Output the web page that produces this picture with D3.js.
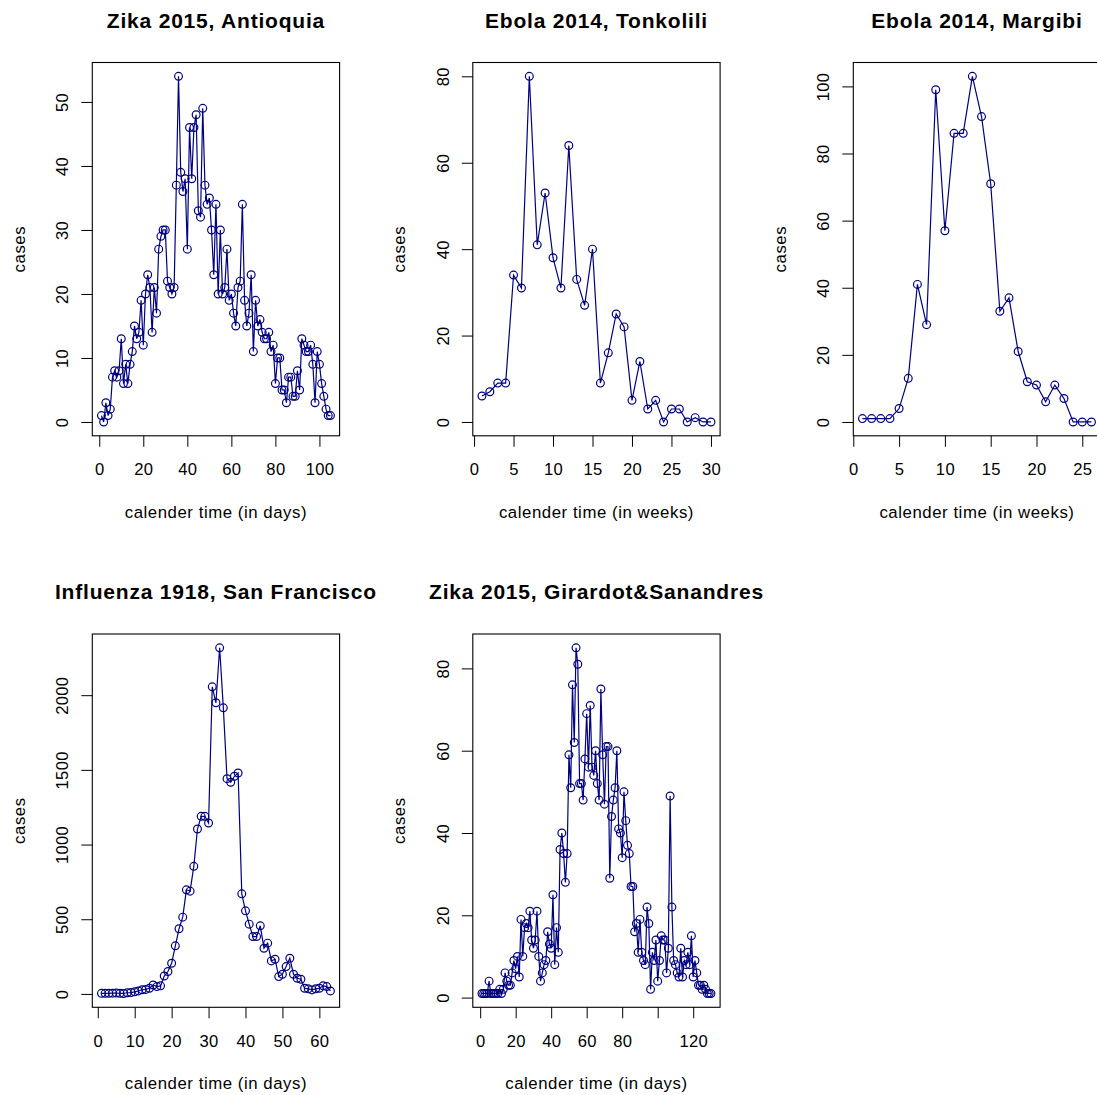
<!DOCTYPE html>
<html>
<head>
<meta charset="utf-8">
<script src="https://cdn.jsdelivr.net/npm/d3@7"></script>
<style>
    body { margin: 0; background: #ffffff; }
    svg { font-family: "Liberation Sans", Arial, Helvetica, sans-serif; }
    .title { font-size: 21px; font-weight: bold; letter-spacing: 0.8px; }
    .label { font-size: 16.8px; letter-spacing: 0.55px; }
    .axis text { font-size: 16.6px; letter-spacing: 0.3px; fill: #000000; }
    .axis line { stroke: #000000; }
</style>
</head>
<body>
<svg id="svgEpidemics" width="1097" height="1095"></svg>
<script>

// Daily / weekly case counts
var antioquiaCases = [1, 0, 3, 1, 2, 7, 8, 7, 8, 13, 6, 9, 6, 9, 11, 15, 13, 14, 19, 12,
    20, 23, 21, 14, 21, 17, 27, 29, 30, 30, 22, 21, 20, 21, 37, 54, 39, 36, 38, 27,
    46, 38, 46, 48, 33, 32, 49, 37, 34, 35, 30, 23, 34, 20, 30, 20, 21, 27, 19, 20,
    17, 15, 21, 22, 34, 19, 15, 17, 23, 11, 19, 15, 16, 14, 13, 13, 14, 11, 12, 6,
    10, 10, 5, 5, 3, 7, 7, 4, 4, 8, 5, 13, 12, 11, 11, 12, 9, 3, 11, 9, 6, 4, 2, 1, 1];

var tonkoliliCases = [6, 7, 9, 9, 34, 31, 80, 41, 53, 38, 31, 64, 33, 27, 40, 9, 16, 25,
    22, 5, 14, 3, 5, 0, 3, 3, 0, 1, 0, 0];

var margibiCases = [1, 1, 1, 1, 4, 13, 41, 29, 99, 57, 86, 86, 103, 91, 71, 33, 37, 21,
    12, 11, 6, 11, 7, 0, 0, 0];

var sanFranciscoCases = [4, 4, 4, 5, 6, 4, 3, 8, 9, 14, 20, 28, 30, 38,
    60, 49, 54, 120, 150, 205, 322, 436, 514, 697, 688, 854, 1104, 1189, 1189, 1144,
    2056, 1949, 2317, 1915, 1441, 1417, 1457, 1479, 670, 556, 467, 384, 384, 456, 306,
    340, 221, 232, 116, 132, 183, 239, 132, 105, 98, 38, 34, 27, 34, 38, 54, 49, 20];

var girardotCases = [1, 1, 1, 1, 4, 1, 1, 1, 1, 1, 2, 1, 2, 6, 4, 3, 3, 6, 9, 7,
    10, 5, 19, 10, 17, 18, 17, 21, 14, 12, 14, 21, 10, 4, 6, 8, 9, 16, 13, 12,
    25, 8, 17, 11, 36, 40, 35, 28, 35, 59, 51, 76, 62, 85, 81, 52, 52, 48, 58, 69,
    56, 71, 56, 54, 60, 52, 48, 75, 59, 47, 61, 61, 29, 44, 48, 51, 60, 41, 40, 34,
    50, 43, 37, 35, 27, 27, 16, 18, 11, 19, 11, 9, 8, 22, 18, 2, 11, 9, 14, 4,
    9, 15, 14, 14, 6, 12, 49, 22, 9, 8, 6, 5, 12, 5, 9, 8, 11, 8, 15, 5,
    9, 6, 3, 3, 2, 3, 2, 1, 1, 1];

var titles = ["Zika 2015, Antioquia", "Ebola 2014, Tonkolili", "Ebola 2014, Margibi",
    "Influenza 1918, San Francisco", "Zika 2015, Girardot&Sanandres"];

var xLabels = ["calender time (in days)", "calender time (in weeks)", "calender time (in weeks)",
    "calender time (in days)", "calender time (in days)"];

var xTicks = [[0, 20, 40, 60, 80, 100], [0, 5, 10, 15, 20, 25, 30], [0, 5, 10, 15, 20, 25],
    [0, 10, 20, 30, 40, 50, 60], [0, 20, 40, 60, 80, 100, 120]];

// R drops the "100" label of the last panel because it would overlap
var xTickLabels = [["0", "20", "40", "60", "80", "100"], ["0", "5", "10", "15", "20", "25", "30"],
    ["0", "5", "10", "15", "20", "25"], ["0", "10", "20", "30", "40", "50", "60"],
    ["0", "20", "40", "60", "80", "", "120"]];

var yTicks = [[0, 10, 20, 30, 40, 50], [0, 20, 40, 60, 80], [0, 20, 40, 60, 80, 100],
    [0, 500, 1000, 1500, 2000], [0, 20, 40, 60, 80]];

var allCases = [antioquiaCases, tonkoliliCases, margibiCases, sanFranciscoCases, girardotCases];

// Layout of the 2 x 3 grid (like par(mfrow = c(2, 3)) in R)
var cell = { width: 380.5, height: 571.5 };
var padding = { top: 62.5, left: 92.3 };
var boxWidth = 247.3;
var boxHeight = 373.3;
var lineColour = "navy";

var svg = d3.select("#svgEpidemics");

svg.append("rect")
    .attr("width", 1097)
    .attr("height", 1095)
    .attr("fill", "#ffffff");

allCases.forEach(function(cases, i) {
    drawPanel(i, cases);
});

function padDomain(extent) {
    /*
     * Extends a range by 4% on both sides, like R's default axis style
     */
    var pad = (extent[1] - extent[0]) * 0.04;
    return [extent[0] - pad, extent[1] + pad];
};

function drawPanel(i, cases) {
    /*
     * Draws one time series panel with points and lines
     */

    var col = i % 3;
    var row = Math.floor(i / 3);

    var left = col * cell.width + padding.left;
    var top = row * cell.height + padding.top;

    var points = cases.map(function(value, t) {
        return { time: t + 1, cases: value };
    });

    var panel = svg.append("g")
        .attr("class", "panel")
        .attr("transform", `translate(${left}, ${top})`);

    var xScale = d3.scaleLinear()
        .range([0, boxWidth])
        .domain(padDomain(d3.extent(points, function(p) { return p.time; })));

    var yScale = d3.scaleLinear()
        .range([boxHeight, 0])
        .domain(padDomain(d3.extent(points, function(p) { return p.cases; })));

    // Draw x-axis
    var xAxis = panel.append("g")
        .attr("class", "axis")
        .attr("transform", `translate(0, ${boxHeight})`)
        .call(d3.axisBottom(xScale)
            .tickValues(xTicks[i])
            .tickFormat(function(d, k) { return xTickLabels[i][k]; })
            .tickSize(11)
            .tickSizeOuter(0)
            .tickPadding(16.5));
    xAxis.select(".domain").remove();
    xAxis.selectAll("text").attr("dy", "0.71em");

    // Draw y-axis with labels parallel to the axis
    var yAxis = panel.append("g")
        .attr("class", "axis")
        .call(d3.axisLeft(yScale)
            .tickValues(yTicks[i])
            .tickFormat(d3.format("d"))
            .tickSize(11)
            .tickSizeOuter(0));
    yAxis.select(".domain").remove();
    yAxis.selectAll("text")
        .attr("transform", "rotate(-90)")
        .attr("x", 0)
        .attr("y", -24)
        .attr("dy", 0)
        .attr("text-anchor", "middle");

    // Draw the line through the points
    var line = d3.line()
        .x(function(p) { return xScale(p.time); })
        .y(function(p) { return yScale(p.cases); });

    panel.append("path")
        .datum(points)
        .attr("fill", "none")
        .attr("stroke", lineColour)
        .attr("stroke-width", 1.2)
        .attr("d", line);

    // Draw open circles on every observation
    panel.selectAll(".obs")
        .data(points)
        .enter()
        .append("circle")
            .attr("class", "obs")
            .attr("cx", function(p) { return xScale(p.time); })
            .attr("cy", function(p) { return yScale(p.cases); })
            .attr("r", 3.9)
            .attr("fill", "none")
            .attr("stroke", lineColour)
            .attr("stroke-width", 1.2);

    // Draw box around the plot region
    panel.append("rect")
        .attr("width", boxWidth)
        .attr("height", boxHeight)
        .attr("fill", "none")
        .attr("stroke", "#000000")
        .attr("stroke-width", 1.1);

    // Draw title
    panel.append("text")
        .attr("class", "title")
        .attr("x", boxWidth / 2)
        .attr("y", -35)
        .attr("text-anchor", "middle")
        .text(titles[i]);

    // Draw x label
    panel.append("text")
        .attr("class", "label")
        .attr("x", boxWidth / 2)
        .attr("y", boxHeight + 82)
        .attr("text-anchor", "middle")
        .text(xLabels[i]);

    // Draw y label
    panel.append("text")
        .attr("class", "label")
        .attr("transform", `translate(-67.5, ${boxHeight / 2}) rotate(-90)`)
        .attr("text-anchor", "middle")
        .text("cases");
};

</script>
</body>
</html>
